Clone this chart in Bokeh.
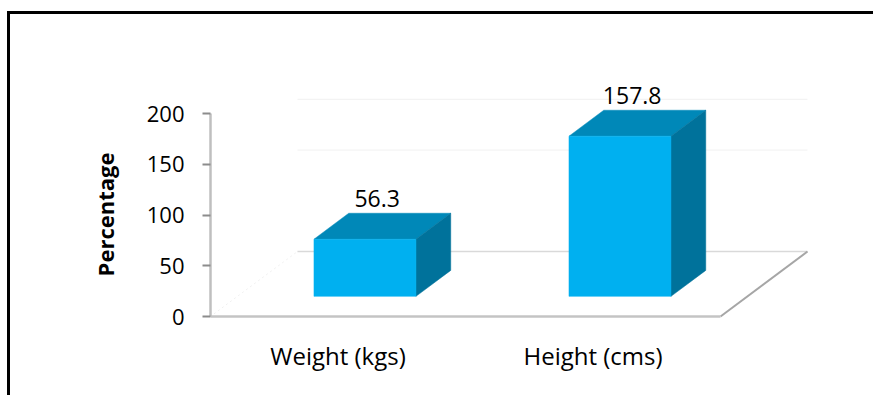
from bokeh.plotting import figure
from bokeh.models import Range1d, FixedTicker, ColumnDataSource
from bokeh.core.properties import value
from bokeh.embed import file_html
from bokeh.resources import INLINE

# ---- data ----
categories = ["Weight (kgs)", "Height (cms)"]
values = [56.3, 157.8]
y_ticks = [0, 50, 100, 150, 200]
back_gridlines = [100, 150]

# ---- pseudo-3D projection (category units along x, value units along y) ----
DX = 0.341          # horizontal shift of the full floor depth
DY = 64.0           # vertical shift of the full floor depth
HALF_W = 0.2        # half width of a bar
D_FRONT, D_BACK = 0.31, 0.71   # depth span occupied by the bars

FONT = "Open Sans"
FRONT_C, TOP_C, SIDE_C = "#00B0F0", "#0088B8", "#00729B"

n = len(categories)
centers = [i + 0.5 for i in range(n)]

p = figure(width=866, height=384, output_backend="svg", toolbar_location=None,
           x_range=Range1d(0, 2.494), y_range=Range1d(-67.0, 268.0),
           min_border_left=200, min_border_right=30,
           min_border_top=30, min_border_bottom=14)
p.styles = {"margin-left": "7px", "margin-top": "11px",
            "border-top": "3px solid #000", "border-left": "3px solid #000"}
p.outline_line_color = None
p.grid.visible = False
p.background_fill_color = "white"
p.border_fill_color = "white"

# back wall gridlines
for g in back_gridlines:
    p.line([DX, n + DX], [g + DY, g + DY], line_color="#f1f1f1", line_width=1)

# floor
p.line([0, DX], [0, DY], line_color="#e0e0e0", line_width=1, line_dash="1 4")
p.line([DX, n + DX], [DY, DY], line_color="#d9d9d9", line_width=1.5)
p.line([n, n + DX], [0, DY], line_color="#a6a6a6", line_width=2)
p.line([0, n], [0, 0], line_color="#c4c4c4", line_width=2.5)

# bars: top face, side face, front face
top_xs, top_ys, side_xs, side_ys = [], [], [], []
fl, fr, fb, ft = [], [], [], []
for c, v in zip(centers, values):
    x0, x1 = c - HALF_W, c + HALF_W
    top_xs.append([x0 + D_FRONT * DX, x1 + D_FRONT * DX, x1 + D_BACK * DX, x0 + D_BACK * DX])
    top_ys.append([v + D_FRONT * DY, v + D_FRONT * DY, v + D_BACK * DY, v + D_BACK * DY])
    side_xs.append([x1 + D_FRONT * DX, x1 + D_BACK * DX, x1 + D_BACK * DX, x1 + D_FRONT * DX])
    side_ys.append([D_FRONT * DY, D_BACK * DY, v + D_BACK * DY, v + D_FRONT * DY])
    fl.append(x0 + D_FRONT * DX)
    fr.append(x1 + D_FRONT * DX)
    fb.append(D_FRONT * DY)
    ft.append(v + D_FRONT * DY)

p.patches(top_xs, top_ys, fill_color=TOP_C, line_color=TOP_C, line_width=0.5)
p.patches(side_xs, side_ys, fill_color=SIDE_C, line_color=SIDE_C, line_width=0.5)
p.quad(left=fl, right=fr, bottom=fb, top=ft, fill_color=FRONT_C, line_color=FRONT_C, line_width=0.5)

# value labels above each bar
lab = ColumnDataSource(dict(
    x=[c + 0.45 * DX for c in centers],
    y=[v + D_BACK * DY for v in values],
    t=[f"{v:.1f}" for v in values],
))
p.text(x="x", y="y", text="t", source=lab, text_align="center",
       text_baseline="bottom", y_offset=-6, text_color="#000000",
       text_font=value(FONT), text_font_size="23px")

# y axis
ya = p.yaxis[0]
ya.bounds = (0, 200)
ya.ticker = FixedTicker(ticks=y_ticks)
ya.axis_line_color = "#bfbfbf"
ya.axis_line_width = 2.5
ya.major_tick_line_color = "#8c8c8c"
ya.major_tick_line_width = 2
ya.major_tick_in = 0
ya.major_tick_out = 8
ya.minor_tick_line_color = None
ya.major_label_standoff = 18
ya.major_label_text_font = FONT
ya.major_label_text_font_size = "22px"
ya.major_label_text_color = "#000000"
ya.axis_label = "Percentage"
ya.axis_label_text_font = FONT
ya.axis_label_text_font_style = "bold"
ya.axis_label_text_font_size = "22px"
ya.axis_label_text_color = "#000000"
ya.axis_label_standoff = 24

# x axis: category names only, pulled up under the floor
xa = p.xaxis[0]
xa.ticker = FixedTicker(ticks=centers)
xa.major_label_overrides = {c: name for c, name in zip(centers, categories)}
xa.axis_line_color = None
xa.major_tick_line_color = None
xa.minor_tick_line_color = None
xa.major_label_standoff = -52
xa.major_label_text_font = FONT
xa.major_label_text_font_size = "24px"
xa.major_label_text_color = "#000000"

open("out.html", "w").write(file_html(p, INLINE))
